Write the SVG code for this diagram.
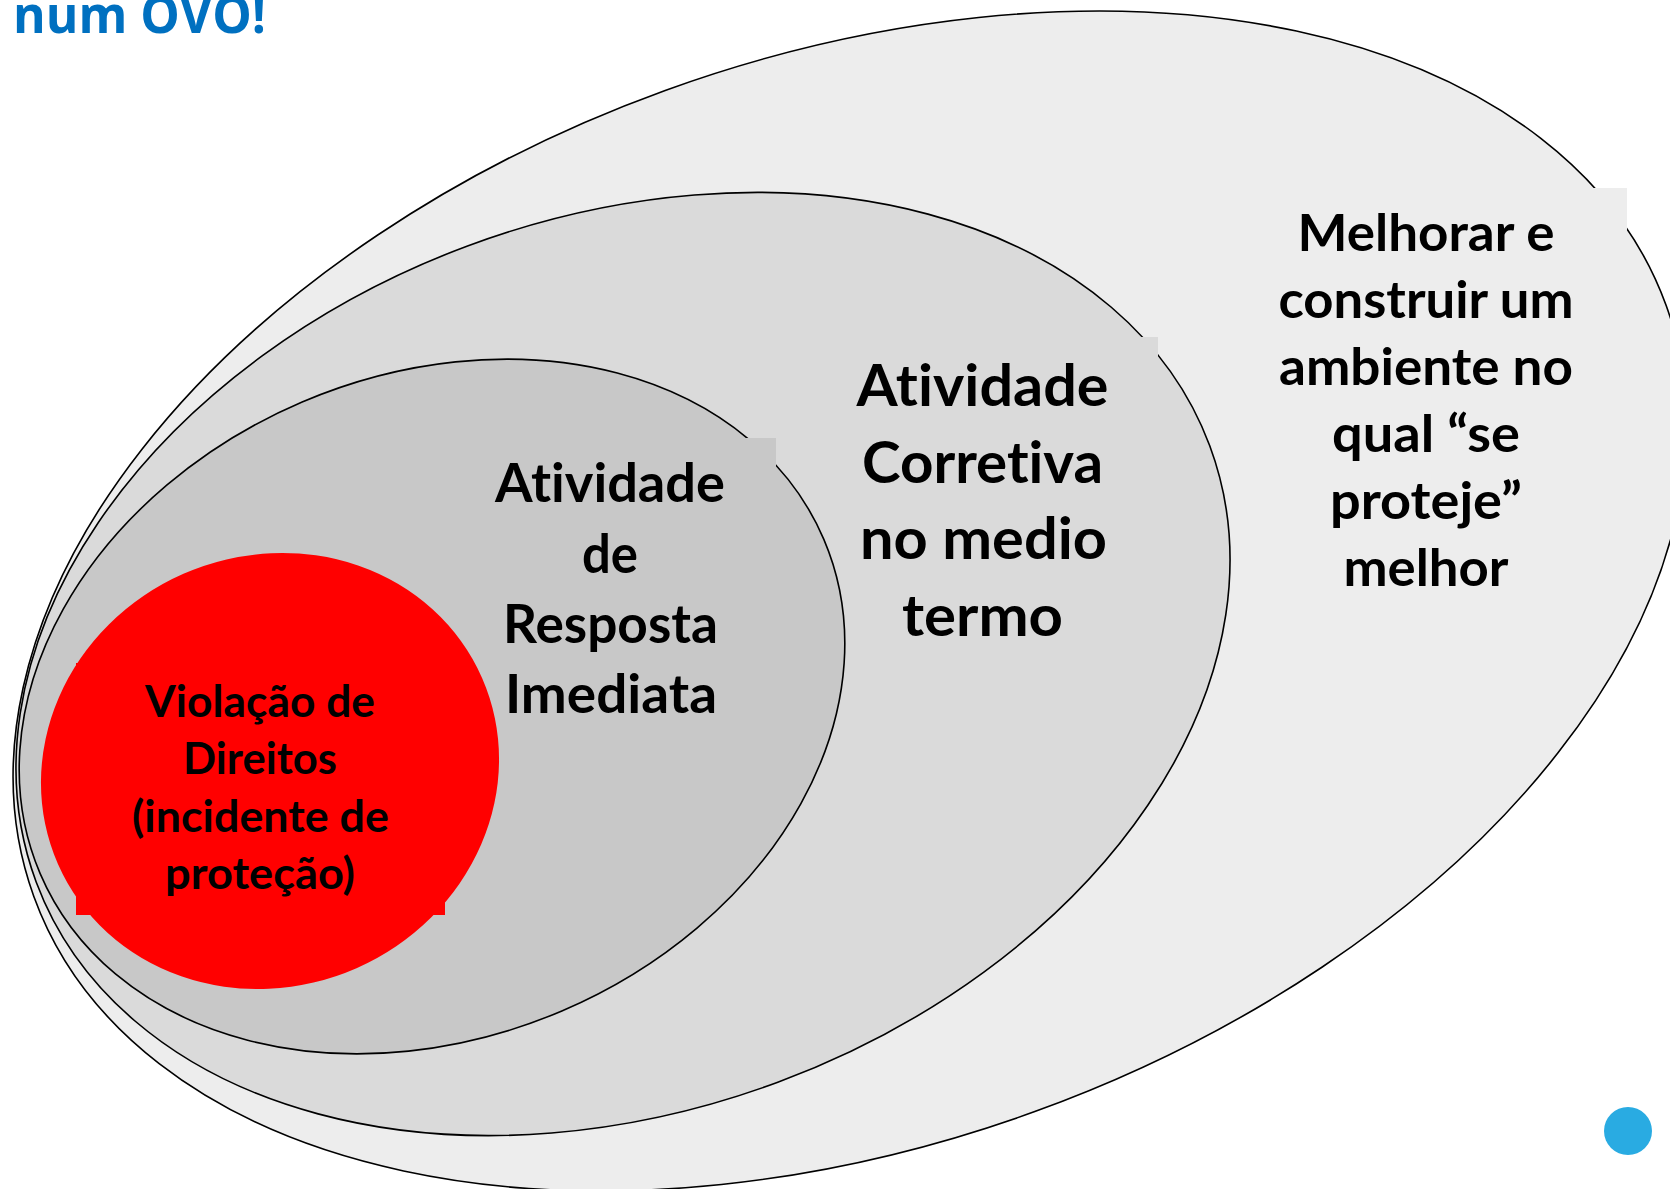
<svg xmlns="http://www.w3.org/2000/svg" width="1670" height="1189" viewBox="0 0 1670 1189">
<style>
  .ell { stroke: #000000; stroke-width: 1.6; }
  .lbl { font-family: Lato, "Open Sans", "Liberation Sans", sans-serif; font-weight: 700; fill: #000000; text-anchor: middle; font-variant-ligatures: none; font-feature-settings: "liga" 0, "clig" 0; }
  .title { font-family: "Open Sans", Lato, "Liberation Sans", sans-serif; font-weight: 700; fill: #0070C0; font-variant-ligatures: none; }
</style>
<rect x="0" y="0" width="1670" height="1189" fill="#FFFFFF"/>

<g id="title">
  <text class="title" x="13" y="33" font-size="52" textLength="253" lengthAdjust="spacingAndGlyphs">num OVO!</text>
</g>

<g id="node-melhorar">
  <ellipse class="ell" cx="850" cy="601" rx="868" ry="543" transform="rotate(-19.9 850 601)" fill="#EDEDED"/>
  <rect x="1262" y="188" width="365" height="415" fill="#EDEDED"/>
  <g class="lbl" font-size="51">
    <text x="1426" y="251" textLength="257" lengthAdjust="spacingAndGlyphs">Melhorar e</text>
    <text x="1426" y="318" textLength="295" lengthAdjust="spacingAndGlyphs">construir um</text>
    <text x="1426" y="385" textLength="294" lengthAdjust="spacingAndGlyphs">ambiente no</text>
    <text x="1426" y="452" textLength="188" lengthAdjust="spacingAndGlyphs">qual “se</text>
    <text x="1426" y="519" textLength="192" lengthAdjust="spacingAndGlyphs">proteje”</text>
    <text x="1426" y="586" textLength="165" lengthAdjust="spacingAndGlyphs">melhor</text>
  </g>
</g>

<g id="node-corretiva">
  <ellipse class="ell" cx="623" cy="664" rx="626" ry="446" transform="rotate(-20.4 623 664)" fill="#DADADA"/>
  <rect x="855" y="337" width="303" height="325" fill="#DADADA"/>
  <g class="lbl" font-size="58">
    <text x="982.5" y="406" textLength="252" lengthAdjust="spacingAndGlyphs">Atividade</text>
    <text x="982.5" y="483" textLength="241" lengthAdjust="spacingAndGlyphs">Corretiva</text>
    <text x="983.5" y="559" textLength="247" lengthAdjust="spacingAndGlyphs">no medio</text>
    <text x="982.5" y="636" textLength="161" lengthAdjust="spacingAndGlyphs">termo</text>
  </g>
</g>

<g id="node-resposta">
  <ellipse class="ell" cx="432" cy="706.5" rx="426" ry="331" transform="rotate(-23.1 432 706.5)" fill="#C8C8C8"/>
  <rect x="500" y="438" width="276" height="300" fill="#C8C8C8"/>
  <g class="lbl" font-size="54">
    <text x="610" y="502" textLength="230" lengthAdjust="spacingAndGlyphs">Atividade</text>
    <text x="610" y="573" textLength="56" lengthAdjust="spacingAndGlyphs">de</text>
    <text x="610.5" y="643" textLength="215" lengthAdjust="spacingAndGlyphs">Resposta</text>
    <text x="611" y="713" textLength="212" lengthAdjust="spacingAndGlyphs">Imediata</text>
  </g>
</g>

<g id="node-violacao">
  <ellipse cx="270" cy="771" rx="231.6" ry="215.3" transform="rotate(-23.7 270 771)" fill="#FF0000"/>
  <rect x="76" y="663" width="369" height="252" fill="#FF0000"/>
  <g class="lbl" font-size="43">
    <text x="260" y="717" textLength="230" lengthAdjust="spacingAndGlyphs">Violação de</text>
    <text x="260" y="774" textLength="154" lengthAdjust="spacingAndGlyphs">Direitos</text>
    <text x="260.5" y="832" textLength="257" lengthAdjust="spacingAndGlyphs">(incidente de</text>
    <text x="260" y="889" textLength="190" lengthAdjust="spacingAndGlyphs">proteção)</text>
  </g>
</g>

<g id="dot">
  <circle cx="1628" cy="1131" r="24" fill="#29ABE2"/>
</g>
</svg>
